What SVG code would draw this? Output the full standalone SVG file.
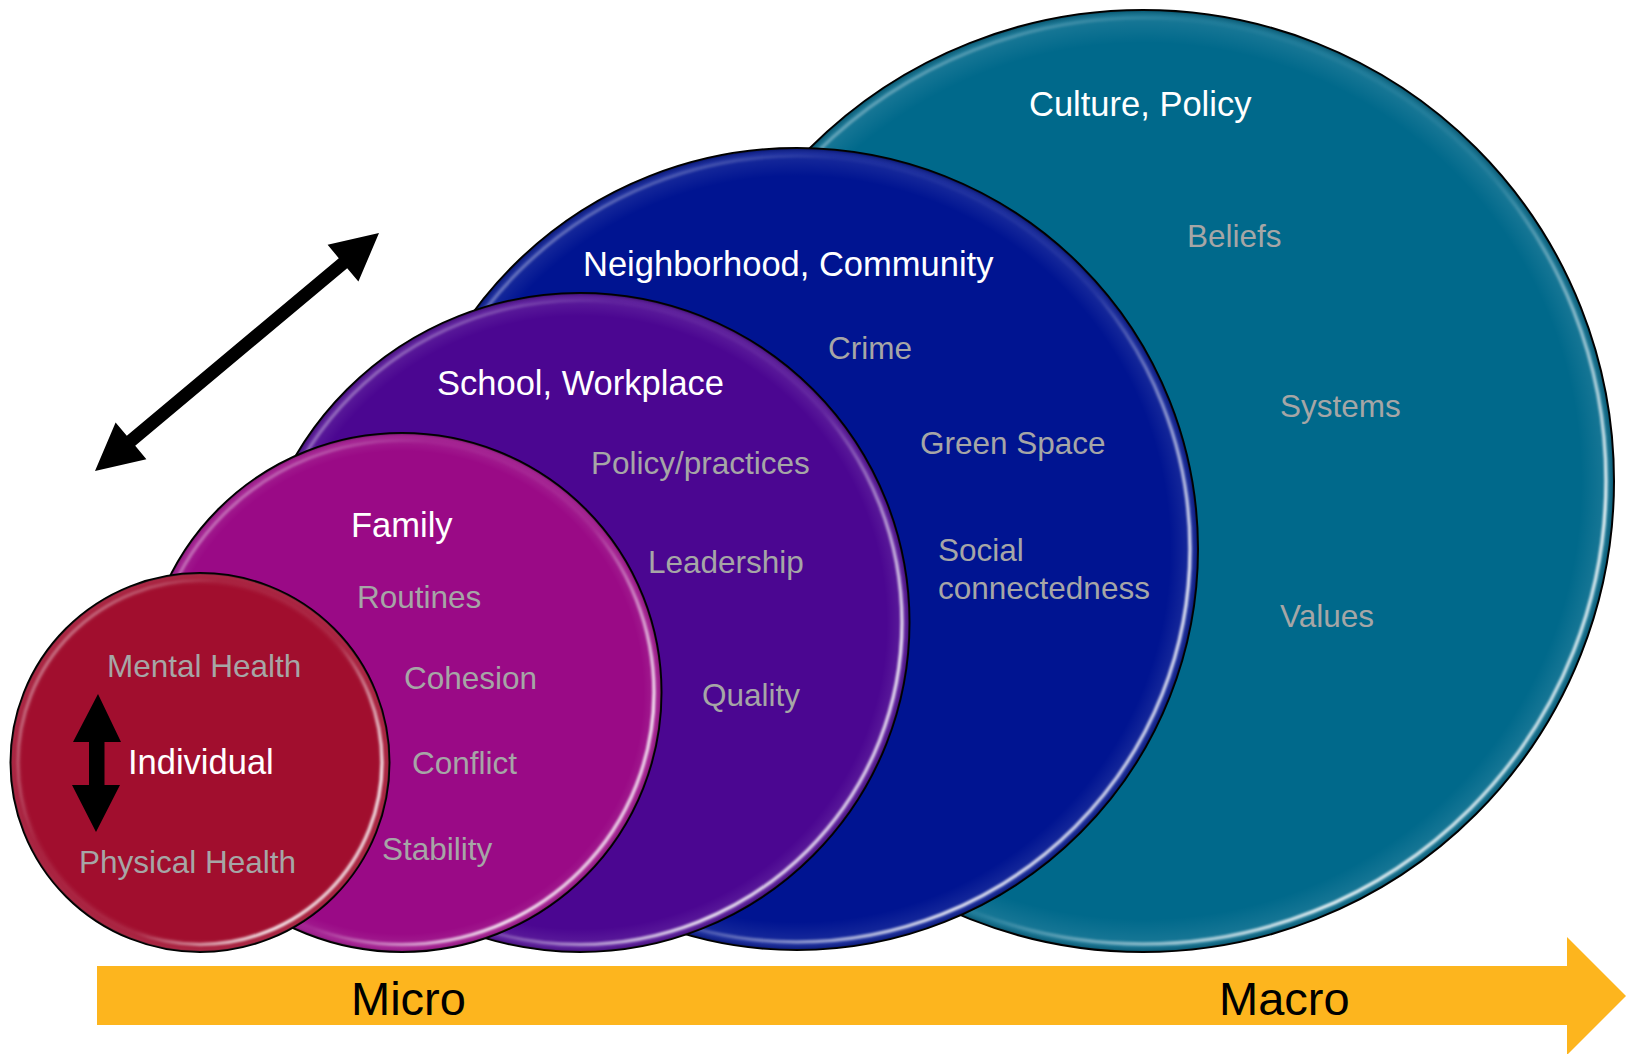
<svg xmlns="http://www.w3.org/2000/svg" width="1626" height="1054" viewBox="0 0 1626 1054">
<style>
.t{font-family:"Liberation Sans",Arial,sans-serif;}
.h{fill:#ffffff;font-size:34.5px;}
.g{fill:#a6a6a6;font-size:31.5px;}
.s{fill:#000000;font-size:47px;}
.edge{stroke:#000;stroke-width:2;}
.ring{fill:none;stroke:url(#hl);stroke-width:3.5;filter:url(#soft);}
.bevel{fill:url(#bv);}
</style>
<defs>
<linearGradient id="hl" x1="0" y1="0.15" x2="1" y2="0.85">
<stop offset="0" stop-color="#fff" stop-opacity="0.45"/>
<stop offset="0.3" stop-color="#fff" stop-opacity="0.03"/>
<stop offset="0.6" stop-color="#fff" stop-opacity="0.05"/>
<stop offset="0.85" stop-color="#fff" stop-opacity="0.85"/>
<stop offset="1" stop-color="#fff" stop-opacity="0.6"/>
</linearGradient>
<radialGradient id="bv" cx="0.5" cy="0.5" r="0.5">
<stop offset="0.93" stop-color="#fff" stop-opacity="0"/>
<stop offset="0.985" stop-color="#fff" stop-opacity="0.1"/>
<stop offset="1" stop-color="#000" stop-opacity="0.25"/>
</radialGradient>
<filter id="soft" x="-5%" y="-5%" width="110%" height="110%"><feGaussianBlur stdDeviation="0.9"/></filter>
</defs>
<rect width="1626" height="1054" fill="#ffffff"/>

<g id="culture">
<circle cx="1143" cy="481" r="471" fill="#00698b" class="edge"/>
<circle cx="1143" cy="481" r="471" class="bevel"/>
<circle cx="1143" cy="481" r="463" class="ring"/>
<text class="t h" x="1029" y="116">Culture, Policy</text>
<text class="t g" x="1187" y="247">Beliefs</text>
<text class="t g" x="1280" y="417">Systems</text>
<text class="t g" x="1280" y="627">Values</text>
</g>

<g id="neighborhood">
<circle cx="797" cy="549" r="401" fill="#001491" class="edge"/>
<circle cx="797" cy="549" r="401" class="bevel"/>
<circle cx="797" cy="549" r="393" class="ring"/>
<text class="t h" x="583" y="276">Neighborhood, Community</text>
<text class="t g" x="828" y="359">Crime</text>
<text class="t g" x="920" y="454">Green Space</text>
<text class="t g" x="938" y="561">Social</text>
<text class="t g" x="938" y="599">connectedness</text>
</g>

<g id="school">
<circle cx="580" cy="622.5" r="329.5" fill="#4b0691" class="edge"/>
<circle cx="580" cy="622.5" r="329.5" class="bevel"/>
<circle cx="580" cy="622.5" r="322" class="ring"/>
<text class="t h" x="437" y="395">School, Workplace</text>
<text class="t g" x="591" y="474">Policy/practices</text>
<text class="t g" x="648" y="573">Leadership</text>
<text class="t g" x="702" y="706">Quality</text>
</g>

<g id="family">
<circle cx="402" cy="692.5" r="259.5" fill="#9a0a86" class="edge"/>
<circle cx="402" cy="692.5" r="259.5" class="bevel"/>
<circle cx="402" cy="692.5" r="252" class="ring"/>
<text class="t h" x="351" y="537">Family</text>
<text class="t g" x="357" y="608">Routines</text>
<text class="t g" x="404" y="689">Cohesion</text>
<text class="t g" x="412" y="774">Conflict</text>
<text class="t g" x="382" y="860">Stability</text>
</g>

<g id="individual">
<circle cx="200" cy="762.5" r="189.5" fill="#a10e2e" class="edge"/>
<circle cx="200" cy="762.5" r="189.5" class="bevel"/>
<circle cx="200" cy="762.5" r="182" class="ring"/>
<text class="t g" x="107" y="677">Mental Health</text>
<text class="t h" x="128" y="774">Individual</text>
<text class="t g" x="79" y="873">Physical Health</text>
</g>

<g id="connectors">
<polygon fill="#000" points="379,233 358.4,281.6 347.2,268.2 135.2,445.8 146.4,459.2 95,471 115.6,422.4 126.8,435.8 338.8,258.2 327.6,244.8"/>
<polygon fill="#000" points="98,694 121,742 104.5,742 104.5,785 120,785 96,832 72,785 89,785 89,742 73,742"/>
</g>

<g id="scale">
<polygon fill="#fdb51e" points="97,966 1567,966 1567,937 1626,996 1567,1055 1567,1025 97,1025"/>
<text class="t s" x="351" y="1015">Micro</text>
<text class="t s" x="1219" y="1015">Macro</text>
</g>
</svg>
